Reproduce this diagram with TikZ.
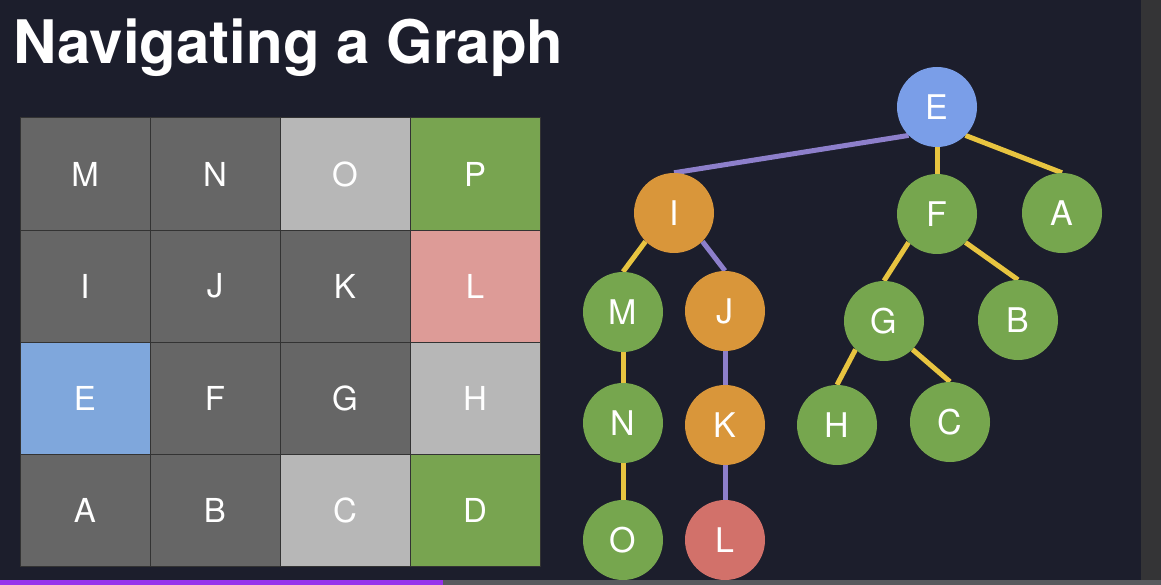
\documentclass[tikz,border=0pt]{standalone}
\usepackage{fontspec}
\setmainfont{TeX Gyre Heros}
\usepackage{xcolor}
\usetikzlibrary{positioning}
\definecolor{slidebg}{RGB}{28,30,44}
\definecolor{sidegray}{RGB}{52,52,54}
\definecolor{barpurple}{RGB}{150,50,235}
\definecolor{bargray}{RGB}{88,90,94}
\definecolor{celldark}{RGB}{102,102,102}
\definecolor{celllight}{RGB}{183,183,183}
\definecolor{cellgreen}{RGB}{120,164,80}
\definecolor{cellpink}{RGB}{221,155,151}
\definecolor{cellblue}{RGB}{127,167,220}
\definecolor{vblue}{RGB}{122,158,232}
\definecolor{vorange}{RGB}{217,150,58}
\definecolor{vgreen}{RGB}{118,166,78}
\definecolor{vred}{RGB}{210,113,106}
\definecolor{edgeyellow}{RGB}{232,196,64}
\definecolor{edgepurple}{RGB}{141,127,203}
\pgfdeclarelayer{backdrop}
\pgfdeclarelayer{edges}
\pgfsetlayers{backdrop,edges,main}

\begin{document}
\begin{tikzpicture}[x=1pt,y=-1pt,
  cell/.style={draw=black!80,line width=0.8pt,minimum width=130pt,minimum height=112.25pt,
    inner sep=0pt,text=white,font=\fontsize{33}{33}\selectfont},
  vertex/.style={circle,minimum size=80pt,inner sep=0pt,text=white,font=\fontsize{34}{34}\selectfont},
  openedge/.style={line width=5pt,edgeyellow},
  pathedge/.style={line width=5pt,edgepurple}]
  \begin{pgfonlayer}{backdrop}
    \fill[slidebg] (0,0) rectangle (1161,585);
    \fill[sidegray] (1141,0) rectangle (1161,580);
    \fill[barpurple] (0,580) rectangle (443,585);
    \fill[bargray] (443,580) rectangle (1161,585);
  \end{pgfonlayer}
  \node[anchor=base west,inner sep=0pt,text=white,font=\bfseries\fontsize{60}{60}\selectfont]
    (title) at (13,64) {Navigating a Graph};
  % grid of cells, row by row
  \foreach \lbl/\clr [count=\i from 0] in {M/celldark,N/celldark,O/celllight,P/cellgreen,
      I/celldark,J/celldark,K/celldark,L/cellpink,
      E/cellblue,F/celldark,G/celldark,H/celllight,
      A/celldark,B/celldark,C/celllight,D/cellgreen}{
    \pgfmathtruncatemacro{\col}{mod(\i,4)}
    \pgfmathtruncatemacro{\row}{int(\i/4)}
    \node[cell,fill=\clr] (cell\lbl) at (85+130*\col,174+112.25*\row) {\lbl};
  }
  % search tree
  \node[vertex,fill=vblue] (E) at (937,107) {E};
  \node[vertex,fill=vorange] (I) at (674,213) {I};
  \node[vertex,fill=vgreen] (F) at (937,214) {F};
  \node[vertex,fill=vgreen] (A) at (1062,213) {A};
  \node[vertex,fill=vgreen] (M) at (623,312) {M};
  \node[vertex,fill=vorange] (J) at (725,311) {J};
  \node[vertex,fill=vgreen] (G) at (884,321) {G};
  \node[vertex,fill=vgreen] (B) at (1018,320) {B};
  \node[vertex,fill=vgreen] (N) at (623,423) {N};
  \node[vertex,fill=vorange] (K) at (725,425) {K};
  \node[vertex,fill=vgreen] (H) at (837,425) {H};
  \node[vertex,fill=vgreen] (C) at (950,422) {C};
  \node[vertex,fill=vgreen] (O) at (623,540) {O};
  \node[vertex,fill=vred] (L) at (725,540) {L};
  \begin{pgfonlayer}{edges}
    \draw[pathedge] (E.south west) -- (I.north);
    \draw[openedge] (E.south) -- (F.north);
    \draw[openedge] (E.south east) -- (A.north);
    \draw[openedge] (I.south west) -- (M.north);
    \draw[pathedge] (I.south east) -- (J.north);
    \draw[openedge] (F.south west) -- (G.north);
    \draw[openedge] (F.south east) -- (B.north);
    \draw[openedge] (M) -- (N);
    \draw[openedge] (N) -- (O);
    \draw[pathedge] (J) -- (K);
    \draw[pathedge] (K) -- (L);
    \draw[openedge] (G.south west) -- (H.north);
    \draw[openedge] (G.south east) -- (C.north);
  \end{pgfonlayer}
\end{tikzpicture}
\end{document}
